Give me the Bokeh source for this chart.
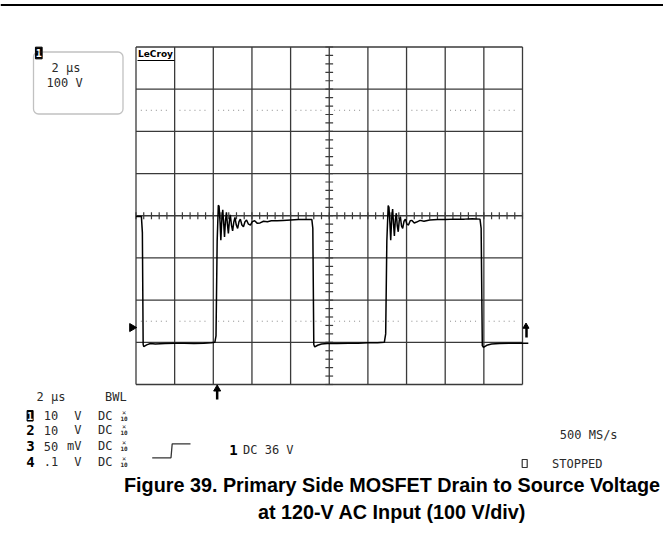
import numpy as np
from bokeh.plotting import figure
from bokeh.models import Range1d, BoxAnnotation
from bokeh.core.properties import value
from bokeh.embed import file_html
from bokeh.resources import INLINE

# ---------------- data ----------------
# time in microseconds (2 us/div, 10 div), voltage in volts (100 V/div, 8 div, screen centre = 0)
time_us = [0.00, 0.28, 0.33, 0.37, 0.40, 0.55, 0.75, 1.00, 1.50, 2.00, 2.50, 3.00, 3.50, 3.90, 4.08,
           4.14, 4.20, 4.26,
           4.30, 4.35, 4.39, 4.44, 4.49, 4.54, 4.58, 4.63, 4.68, 4.73, 4.78, 4.83, 4.88, 4.94, 5.00,
           5.06, 5.12, 5.19, 5.26, 5.33, 5.40, 5.48, 5.56, 5.64, 5.72, 5.82, 5.92, 6.02, 6.14, 6.28,
           6.42, 6.60, 6.80, 7.00, 7.30, 7.60, 8.00, 8.40, 8.80, 9.10,
           9.15, 9.20,
           9.25, 9.40, 9.60, 9.90, 10.40, 11.00, 11.50, 12.00, 12.50, 12.85,
           12.92, 12.98, 13.05,
           13.09, 13.14, 13.18, 13.23, 13.28, 13.33, 13.37, 13.42, 13.47, 13.52, 13.57, 13.62, 13.68,
           13.74, 13.80, 13.87, 13.94, 14.02, 14.10, 14.19, 14.28, 14.40, 14.52, 14.70, 14.90, 15.20,
           15.60, 16.00, 16.50, 17.00, 17.40, 17.80,
           17.86, 17.92,
           17.98, 18.15, 18.40, 18.80, 19.30, 19.80, 20.30]
drain_v = [-2, -2, -40, -305, -310, -306, -303, -304, -303, -302, -302, -303, -302, -301, -300,
           -285, -60, 25,
           22, -15, -58, -10, 14, -20, -50, -12, 8, -20, -42, -14, 2, -22, -36,
           -15, -4, -22, -30, -14, -8, -22, -26, -14, -10, -20, -22, -14, -12, -18,
           -17, -13, -14, -12, -12, -11, -10, -9, -9, -9,
           -30, -305,
           -311, -307, -304, -303, -303, -302, -302, -301, -301, -300,
           -280, -60, 24,
           20, -18, -58, -8, 16, -22, -48, -10, 6, -24, -38, -12, -2,
           -24, -30, -13, -8, -20, -22, -12, -11, -17, -15, -11, -13, -10,
           -9, -9, -8, -8, -7, -8,
           -30, -308,
           -312, -307, -304, -303, -302, -302, -302]

grid_t = [0, 2, 4, 6, 8, 10, 12, 14, 16, 18, 20]
grid_v = [-400, -300, -200, -100, 0, 100, 200, 300, 400]
dotted_v = [250, -250]
trigger_t = 4.2
marker_v = -265

title_lines = ["Figure 39. Primary Side MOSFET Drain to Source Voltage",
               "at 120-V AC Input (100 V/div)"]
box_texts = ["2 \u00b5s", "100 V"]
channel_ids = ["1", "2", "3", "4"]
channel_scale = ["10", "10", "50", ".1"]
channel_unit = ["V", "V", "mV", "V"]
channel_coupling = ["DC", "DC", "DC", "DC"]
timebase_text = "2 \u00b5s"
bwl_text = "BWL"
trigger_text = "DC 36 V"
rate_text = "500 MS/s"
state_text = "STOPPED"

# ---------------- geometry helpers (picture pixels -> data) ----------------
PX_PER_US = 386.5 / 20.0
PX_PER_V = 337.5 / 800.0
X0 = 135.5     # picture x of t = 0
YC = 215.25    # picture y of V = 0


def X(px):
    return (px - X0) / PX_PER_US


def Y(py):
    return (YC - py) / PX_PER_V


W, H = 663, 525
p = figure(width=W, height=H, output_backend="svg", toolbar_location=None,
           x_range=Range1d(X(0), X(W)), y_range=Range1d(Y(H), Y(0)),
           x_axis_location=None, y_axis_location=None, min_border=0,
           outline_line_color=None, background_fill_color="white",
           border_fill_color="white")
p.grid.visible = False

GRID_C = "#3a3a3a"
MONO = value("DejaVu Sans Mono")
TXT_C = "#2a2a2a"

# top rule
p.segment(x0=[X(0)], y0=[Y(4.5)], x1=[X(W)], y1=[Y(4.5)], line_color="black", line_width=2)

# graticule
tmin, tmax = grid_t[0], grid_t[-1]
vmin, vmax = grid_v[0], grid_v[-1]
p.segment(x0=grid_t, y0=[vmin] * len(grid_t), x1=grid_t, y1=[vmax] * len(grid_t),
          line_color=GRID_C, line_width=1.3)
p.segment(x0=[tmin] * len(grid_v), y0=grid_v, x1=[tmax] * len(grid_v), y1=grid_v,
          line_color=GRID_C, line_width=1.3)

# dotted level lines inside each division
dx0, dx1, dy = [], [], []
for lv in dotted_v:
    for i in range(len(grid_t) - 1):
        dx0.append(grid_t[i] + 0.25)
        dx1.append(grid_t[i + 1] - 0.25)
        dy.append(lv)
p.segment(x0=dx0, y0=dy, x1=dx1, y1=dy, line_color="#8a8a8a", line_width=1, line_dash="1 4")

# centre-cross minor ticks
tc = (tmin + tmax) / 2
vt = np.arange(vmin, vmax + 1, 20)
p.segment(x0=[tc - 0.2] * len(vt), y0=vt, x1=[tc + 0.2] * len(vt), y1=vt,
          line_color=GRID_C, line_width=1.2)
ht = np.arange(tmin, tmax + 0.001, 0.4)
p.segment(x0=ht, y0=[-8.5] * len(ht), x1=ht, y1=[8.5] * len(ht),
          line_color=GRID_C, line_width=1.2)

# waveform
p.line(time_us, drain_v, line_color="black", line_width=1.5)

# markers: level marker left, trigger position bottom, level marker right
p.scatter([X(131.5)], [marker_v], marker="triangle", size=8, angle=-np.pi / 2,
          fill_color="black", line_color="black")
p.segment(x0=[trigger_t], y0=[Y(389)], x1=[trigger_t], y1=[Y(399)], line_color="black", line_width=2.5)
p.scatter([trigger_t], [Y(388.5)], marker="triangle", size=7, fill_color="black", line_color="black")
p.segment(x0=[X(526)], y0=[Y(337)], x1=[X(526)], y1=[Y(327)], line_color="black", line_width=2.5)
p.scatter([X(525.5)], [Y(326)], marker="triangle", size=6, fill_color="black", line_color="black")

# LeCroy logo
p.text(x=[X(137.5)], y=[Y(53.5)], text=["LeCroy"], text_font=value("DejaVu Sans"),
       text_font_style="bold", text_font_size="9px", text_color="black",
       text_align="left", text_baseline="middle")
p.segment(x0=[X(137)], y0=[Y(60)], x1=[X(174)], y1=[Y(60)], line_color="black", line_width=1.2)

# rounded info box at top-left
box = BoxAnnotation(left=X(33), right=X(122.5), top=Y(51.5), bottom=Y(113.5),
                    fill_alpha=0, line_color="#333333", line_width=1.3, border_radius=5)
p.add_layout(box)
p.rect(x=[X(38.3)], y=[Y(52.5)], width=6.7 / PX_PER_US, height=11.7 / PX_PER_V,
       fill_color="black", line_color="black")
p.text(x=[X(38.3)], y=[Y(52.8)], text=["1"], text_font=MONO, text_font_style="bold",
       text_font_size="10px", text_color="white", text_align="center", text_baseline="middle")
p.text(x=[X(51), X(46)], y=[Y(67.5), Y(82.5)], text=box_texts, text_font=MONO,
       text_font_size="12px", text_color=TXT_C, text_align="left", text_baseline="middle")

# bottom-left channel block
p.text(x=[X(36)], y=[Y(396)], text=[timebase_text], text_font=MONO, text_font_size="12px",
       text_color=TXT_C, text_align="left", text_baseline="middle")
p.text(x=[X(104.5)], y=[Y(396)], text=[bwl_text], text_font=MONO, text_font_size="12px",
       text_color=TXT_C, text_align="left", text_baseline="middle")
row_y = [415.3, 429.5, 445.5, 461.0]
p.rect(x=[X(29.6)], y=[Y(row_y[0])], width=6 / PX_PER_US, height=10.5 / PX_PER_V,
       fill_color="black", line_color="black")
p.text(x=[X(29.6)], y=[Y(row_y[0] + 0.3)], text=[channel_ids[0]], text_font=MONO,
       text_font_style="bold", text_font_size="10px", text_color="white",
       text_align="center", text_baseline="middle")
p.text(x=[X(30)] * 3, y=[Y(v) for v in row_y[1:]], text=channel_ids[1:], text_font=MONO,
       text_font_style="bold", text_font_size="14px", text_color="black",
       text_align="center", text_baseline="middle")
p.text(x=[X(43.3)] * 4, y=[Y(v) for v in row_y], text=channel_scale, text_font=MONO,
       text_font_size="12px", text_color=TXT_C, text_align="left", text_baseline="middle")
p.text(x=[X(81)] * 4, y=[Y(v) for v in row_y], text=channel_unit, text_font=MONO,
       text_font_size="12px", text_color=TXT_C, text_align="right", text_baseline="middle")
p.text(x=[X(97.5)] * 4, y=[Y(v) for v in row_y], text=channel_coupling, text_font=MONO,
       text_font_size="12px", text_color=TXT_C, text_align="left", text_baseline="middle")
p.text(x=[X(123.5)] * 4, y=[Y(v - 2.8) for v in row_y], text=["\u00d7"] * 4, text_font=MONO,
       text_font_size="7px", text_color=TXT_C, text_align="center", text_baseline="middle")
p.text(x=[X(123.5)] * 4, y=[Y(v + 2.8) for v in row_y], text=["10"] * 4, text_font=MONO,
       text_font_style="bold", text_font_size="6px", text_color=TXT_C, text_align="center",
       text_baseline="middle")

# trigger symbol and text
p.line(x=[X(151.7), X(170.5), X(171.7), X(190)], y=[Y(457.3), Y(457.3), Y(443.3), Y(443.3)],
       line_color="#333333", line_width=1.3)
p.text(x=[X(233)], y=[Y(449.5)], text=["1"], text_font=MONO, text_font_style="bold",
       text_font_size="14px", text_color="black", text_align="center", text_baseline="middle")
p.text(x=[X(242.5)], y=[Y(449.5)], text=[trigger_text], text_font=MONO, text_font_size="12px",
       text_color=TXT_C, text_align="left", text_baseline="middle")

# acquisition status
p.text(x=[X(559.3)], y=[Y(434)], text=[rate_text], text_font=MONO, text_font_size="12px",
       text_color=TXT_C, text_align="left", text_baseline="middle")
p.rect(x=[X(524.2)], y=[Y(463)], width=5 / PX_PER_US, height=8 / PX_PER_V,
       fill_color=None, line_color="#333333", line_width=1.2)
p.text(x=[X(551.5)], y=[Y(463.5)], text=[state_text], text_font=MONO, text_font_size="12px",
       text_color=TXT_C, text_align="left", text_baseline="middle")

# caption
p.text(x=[X(391.5)] * 2, y=[Y(484.5), Y(511)], text=title_lines,
       text_font=value("Liberation Sans"), text_font_style="bold", text_font_size="19.8px",
       text_color="black", text_align="center", text_baseline="middle")

open("out.html", "w").write(file_html(p, INLINE))
